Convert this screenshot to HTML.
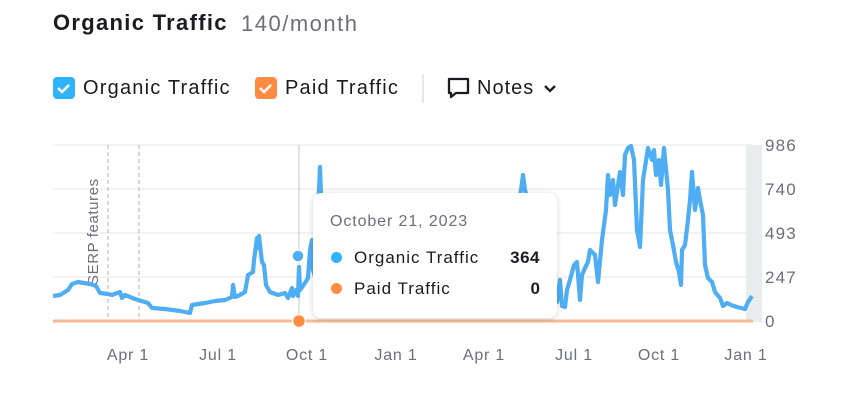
<!DOCTYPE html>
<html><head><meta charset="utf-8"><style>
body{margin:0;background:#fff;width:859px;height:417px;overflow:hidden;font-family:"Liberation Sans",sans-serif;position:relative}
.a{position:absolute;white-space:nowrap}
.cb{position:absolute;width:22px;height:22px;border-radius:4px}
</style></head><body>
<div class="a" style="left:53px;top:10px;font-size:22px;font-weight:bold;color:#1a1c22;letter-spacing:1.3px">Organic Traffic</div>
<div class="a" style="left:241px;top:11px;font-size:22px;color:#6c6e79;letter-spacing:1.5px">140/month</div>
<div class="cb" style="left:53px;top:77px;background:#2eb4ff"></div>
<div class="cb" style="left:255px;top:77px;background:#ff8c40"></div>
<svg class="a" style="left:0;top:0" width="859" height="417">
<path d="M58 88l4 4 7-7M260 88l4 4 7-7" stroke="#fff" stroke-width="2.5" fill="none"/>
<line x1="423" y1="74" x2="423" y2="103" stroke="#d0d1d5"/>
<path d="M449 79h19v14h-12l-5 4v-4h-2z" stroke="#1a1c22" stroke-width="2.3" fill="none" stroke-linejoin="round"/>
<path d="M545 86l5 5 5-5" stroke="#1a1c22" stroke-width="2.3" fill="none"/>
<g stroke="#e3e4e8"><line x1="53" y1="145" x2="753" y2="145"/><line x1="53" y1="189" x2="753" y2="189"/><line x1="53" y1="233" x2="753" y2="233"/><line x1="53" y1="277" x2="753" y2="277"/></g>
<rect x="746" y="145" width="16" height="177" fill="#e9ecec"/>
<g stroke="#b0b2b8" stroke-dasharray="4,3"><line x1="108" y1="145" x2="108" y2="321"/><line x1="139" y1="145" x2="139" y2="321"/></g>
<line x1="299" y1="145" x2="299" y2="321" stroke="#c4c5ca"/>
<text transform="translate(98,285) rotate(-90)" font-size="15" fill="#6c6e79" font-family="Liberation Sans" letter-spacing="0.6">SERP features</text>
<line x1="53" y1="321" x2="753" y2="321" stroke="#f5b896" stroke-width="3"/>
<polyline fill="none" stroke="#4fadf3" stroke-width="4.2" stroke-linejoin="round" points="53,296 60,295 68,290 72,284 78,282 90,284 96,286 100,293 108,294 112,295 120,292 122,298 125,295 135,299 148,303 152,308 165,309 180,311 190,313 192,305 205,303 215,301 225,300 232,297 233,285 235,297 238,296 245,292 248,275 253,272 254,260 257,238 258,248 259,236 262,262 264,265 266,285 270,292 278,295 285,293 288,298 292,288 293,296 296,290 298,296 299,267 300,290 305,283 308,278 310,250 312,240 313,270 316,280 319,190 320,167 321,195 330,240 400,260 480,250 515,220 521,190 523,175 525,190 540,240 557,302 560,280 562,306 565,307 567,290 570,280 574,265 577,262 580,300 582,275 585,268 588,262 590,250 595,255 598,282 602,240 606,210 608,175 610,195 613,180 615,205 620,172 623,195 625,155 628,148 631,146 634,160 637,230 640,247 643,180 648,148 652,160 654,150 656,175 659,160 661,185 664,148 668,190 670,230 673,245 676,262 679,272 681,285 682,250 685,245 688,220 690,200 692,172 695,210 698,188 700,200 703,215 705,265 708,278 712,282 715,292 720,298 723,306 727,303 731,305 737,307 745,309 748,302 752,296"/>
<circle cx="298" cy="256" r="6" fill="#4fadf3" stroke="#fff" stroke-width="1.5"/>
<circle cx="299" cy="321" r="6.5" fill="#ff8c40" stroke="#fff" stroke-width="1.5"/>
<g font-size="17" fill="#6c6e79" font-family="Liberation Sans" letter-spacing="1.2">
<text x="765" y="151">986</text><text x="765" y="195">740</text><text x="765" y="239">493</text><text x="765" y="283">247</text><text x="765" y="327">0</text>
</g>
<g font-size="16" fill="#6c6e79" font-family="Liberation Sans" text-anchor="middle" letter-spacing="0.8">
<text x="128" y="360">Apr 1</text><text x="218" y="360">Jul 1</text><text x="307" y="360">Oct 1</text><text x="396" y="360">Jan 1</text><text x="484" y="360">Apr 1</text><text x="574" y="360">Jul 1</text><text x="659" y="360">Oct 1</text><text x="746" y="360">Jan 1</text>
</g>
</svg>
<div class="a" style="left:313px;top:193px;width:244px;height:125px;background:#fff;border-radius:8px;box-shadow:0 1px 6px rgba(0,0,0,0.18)">
<div class="a" style="left:17px;top:20px;font-size:16px;color:#6c6e79;letter-spacing:0.9px">October 21, 2023</div>
<div class="a" style="left:18px;top:59px;width:11px;height:11px;border-radius:50%;background:#2eb4ff"></div>
<div class="a" style="left:41px;top:55px;font-size:17px;color:#1a1c22;letter-spacing:1px">Organic Traffic</div>
<div class="a" style="right:17px;top:55px;font-size:17px;font-weight:bold;color:#1a1c22;letter-spacing:0.5px">364</div>
<div class="a" style="left:18px;top:90px;width:11px;height:11px;border-radius:50%;background:#ff8c40"></div>
<div class="a" style="left:41px;top:86px;font-size:17px;color:#1a1c22;letter-spacing:1px">Paid Traffic</div>
<div class="a" style="right:17px;top:86px;font-size:17px;font-weight:bold;color:#1a1c22">0</div>
</div>
<div class="a" style="left:83px;top:77px;font-size:20px;color:#1a1c22;letter-spacing:1.2px">Organic Traffic</div>
<div class="a" style="left:285px;top:77px;font-size:20px;color:#1a1c22;letter-spacing:1.2px">Paid Traffic</div>
<div class="a" style="left:477px;top:77px;font-size:20px;color:#1a1c22;letter-spacing:1px">Notes</div>
</body></html>
